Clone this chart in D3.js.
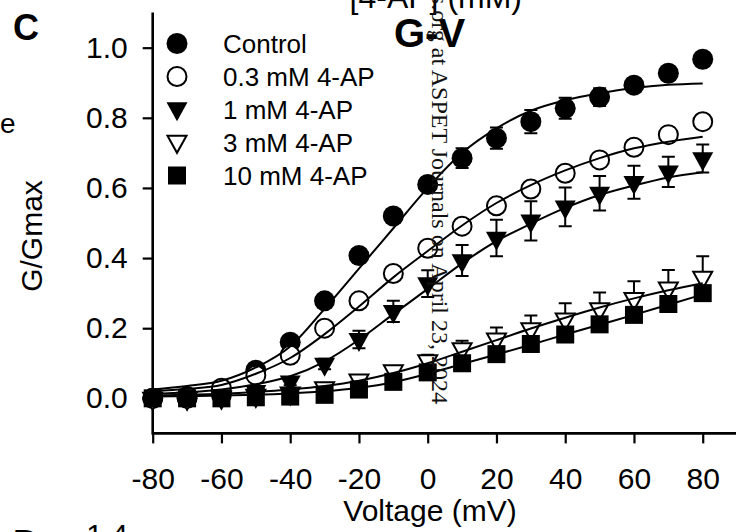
<!DOCTYPE html>
<html><head><meta charset="utf-8">
<script src="https://cdn.jsdelivr.net/npm/d3@7"></script>
<style>html,body{margin:0;padding:0;background:#fff;overflow:hidden}svg{display:block}</style>
</head><body>
<script>
// ---------- data ----------
const voltages = [-80,-70,-60,-50,-40,-30,-20,-10,0,10,20,30,40,50,60,70,80];
const seriesNames = ["Control","0.3 mM 4-AP","1 mM 4-AP","3 mM 4-AP","10 mM 4-AP"];
const seriesSymbols = ["circleFilled","circleOpen","triFilled","triOpen","squareFilled"];

const controlMean = [0.0,0.0,0.01,0.08,0.16,0.278,0.407,0.52,0.61,0.685,0.742,0.789,0.827,0.859,0.893,0.927,0.967];
const controlErr  = [0.0,0.0,0.005,0.01,0.01,0.015,0.02,0.02,0.02,0.028,0.03,0.033,0.03,0.025,0.02,0.02,0.02];
const ap03Mean = [0.0,0.005,0.029,0.066,0.123,0.2,0.278,0.356,0.428,0.491,0.549,0.597,0.642,0.68,0.716,0.752,0.789];
const ap03Err  = [0.0,0.0,0.005,0.01,0.01,0.012,0.015,0.015,0.02,0.02,0.02,0.02,0.02,0.02,0.02,0.02,0.02];
const ap1Mean = [0.0,0.0,0.005,0.02,0.047,0.098,0.168,0.248,0.327,0.393,0.457,0.506,0.546,0.585,0.616,0.646,0.684];
const ap1Err  = [0.0,0.0,0.003,0.005,0.01,0.015,0.025,0.03,0.038,0.044,0.052,0.056,0.055,0.049,0.047,0.043,0.04];
const ap3Mean = [0.0,0.0,0.003,0.008,0.015,0.03,0.052,0.078,0.107,0.141,0.169,0.198,0.226,0.255,0.284,0.314,0.345];
const ap3Err  = [0.0,0.0,0.003,0.004,0.005,0.006,0.008,0.012,0.017,0.023,0.033,0.038,0.045,0.047,0.05,0.052,0.06];
const ap10Mean = [0.0,0.0,0.0,0.003,0.005,0.01,0.025,0.047,0.074,0.10,0.126,0.155,0.182,0.211,0.238,0.269,0.30];
const ap10Err  = [0.0,0.0,0.0,0.003,0.004,0.005,0.006,0.008,0.01,0.012,0.014,0.015,0.016,0.018,0.02,0.02,0.02];

// Boltzmann fit curves at each 10 mV
const controlFit = [0.025,0.035,0.05,0.088,0.148,0.255,0.37,0.485,0.60,0.70,0.77,0.82,0.85,0.87,0.885,0.894,0.898];
const ap03Fit    = [0.02,0.027,0.038,0.07,0.115,0.183,0.262,0.345,0.42,0.493,0.557,0.608,0.65,0.685,0.713,0.732,0.746];
const ap1Fit     = [0.012,0.017,0.025,0.04,0.063,0.105,0.167,0.24,0.312,0.385,0.448,0.498,0.543,0.58,0.607,0.63,0.645];
const ap3Fit     = [0.008,0.01,0.013,0.018,0.025,0.035,0.05,0.072,0.10,0.133,0.166,0.199,0.23,0.259,0.285,0.308,0.328];
const ap10Fit    = [0.005,0.006,0.008,0.01,0.014,0.02,0.03,0.046,0.07,0.098,0.125,0.153,0.182,0.21,0.238,0.267,0.296];

const xTicks = [-80,-60,-40,-20,0,20,40,60,80];
const yTicks = [0.0,0.2,0.4,0.6,0.8,1.0];

const series = [
  {name: seriesNames[0], sym: seriesSymbols[0], mean: controlMean, err: controlErr, fit: controlFit},
  {name: seriesNames[1], sym: seriesSymbols[1], mean: ap03Mean, err: ap03Err, fit: ap03Fit},
  {name: seriesNames[2], sym: seriesSymbols[2], mean: ap1Mean, err: ap1Err, fit: ap1Fit},
  {name: seriesNames[3], sym: seriesSymbols[3], mean: ap3Mean, err: ap3Err, fit: ap3Fit},
  {name: seriesNames[4], sym: seriesSymbols[4], mean: ap10Mean, err: ap10Err, fit: ap10Fit}
];

// ---------- drawing ----------
const W = 736, H = 532;
const FONT = "'Liberation Sans', Arial, Helvetica, sans-serif";
const svg = d3.select("body").append("svg").attr("width", W).attr("height", H)
  .style("font-family", FONT);

const x = d3.scaleLinear().domain([-80, 90]).range([152.7, 737.1]);
const y = d3.scaleLinear().domain([-0.1, 1.1]).range([433.4, 12.6]);

function drawSymbol(g, sym, cx, cy) {
  if (sym === "circleFilled") {
    g.append("circle").attr("cx", cx).attr("cy", cy).attr("r", 10.5).attr("fill", "#000");
  } else if (sym === "circleOpen") {
    g.append("circle").attr("cx", cx).attr("cy", cy).attr("r", 9.5)
      .attr("fill", "#fff").attr("stroke", "#000").attr("stroke-width", 2);
  } else if (sym === "triFilled" || sym === "triOpen") {
    const w = sym === "triFilled" ? 21 : 19, h = sym === "triFilled" ? 19 : 17;
    const p = `M${cx - w/2},${cy - h/3}L${cx + w/2},${cy - h/3}L${cx},${cy + 2*h/3}Z`;
    const el = g.append("path").attr("d", p);
    if (sym === "triFilled") el.attr("fill", "#000");
    else el.attr("fill", "#fff").attr("stroke", "#000").attr("stroke-width", 2).attr("stroke-linejoin", "miter");
  } else if (sym === "squareFilled") {
    g.append("rect").attr("x", cx - 9).attr("y", cy - 9).attr("width", 18).attr("height", 18).attr("fill", "#000");
  }
}

// header texts
svg.append("text").attr("x", 522).attr("y", 8).attr("text-anchor", "end")
  .attr("font-size", 32).text("[4-AP] (mM)");
svg.append("text").attr("x", 13).attr("y", 40).attr("font-size", 36).attr("font-weight", "bold").text("C");
svg.append("text").attr("x", 394).attr("y", 47).attr("font-size", 40).attr("font-weight", "bold").text("G-V");
svg.append("text").attr("x", 0).attr("y", 133).attr("font-size", 28).text("e");
svg.append("text").attr("x", 13).attr("y", 556).attr("font-size", 36).attr("font-weight", "bold").text("D");
svg.append("text").attr("x", 128).attr("y", 545).attr("text-anchor", "end").attr("font-size", 30).text("1.4");

// axes
const yAxis = d3.axisLeft(y).tickValues(yTicks).tickFormat(d3.format(".1f"))
  .tickSize(10).tickSizeOuter(0).tickPadding(15);
const gy = svg.append("g").attr("transform", `translate(${x(-80)},0)`).call(yAxis);
const xAxis = d3.axisBottom(x).tickValues(xTicks).tickFormat(d => String(d))
  .tickSize(10).tickSizeOuter(0).tickPadding(24);
const gx = svg.append("g").attr("transform", `translate(0,${y(-0.1)})`).call(xAxis);
[gx, gy].forEach(g => {
  g.select(".domain").attr("stroke", "#000").attr("stroke-width", 2.6);
  g.selectAll(".tick line").attr("stroke", "#000").attr("stroke-width", 2.2);
  g.selectAll(".tick text").attr("fill", "#000").attr("font-size", 30).attr("font-family", FONT);
});
gx.selectAll(".tick text").attr("y", 34).attr("dy", "0.71em");
gx.select(".domain").attr("d", `M${x(-80)},0H${x(90)}`);
gy.select(".domain").attr("d", `M0,${y(-0.1) + 1.3}V${y(1.1)}`);

// axis titles
svg.append("text").attr("transform", "translate(42,236) rotate(-90)").attr("text-anchor", "middle")
  .attr("font-size", 30).text("G/Gmax");
svg.append("text").attr("x", 430).attr("y", 521).attr("text-anchor", "middle")
  .attr("font-size", 30).text("Voltage (mV)");

// plots: error bars + symbols, series by series
const plot = svg.append("g");
series.forEach(s => {
  const g = plot.append("g");
  voltages.forEach((v, i) => {
    const m = s.mean[i], e = s.err[i];
    if (e > 0) {
      const cx = x(v), y1 = y(m + e), y2 = y(m - e);
      g.append("path").attr("d", `M${cx},${y1}V${y2}M${cx-6.5},${y1}H${cx+6.5}M${cx-6.5},${y2}H${cx+6.5}`)
        .attr("stroke", "#000").attr("stroke-width", 2).attr("fill", "none");
    }
  });
  voltages.forEach((v, i) => drawSymbol(g, s.sym, x(v), y(s.mean[i])));
});

// fit curves
const line = d3.line().x((d, i) => x(voltages[i])).y(d => y(d)).curve(d3.curveMonotoneX);
series.forEach(s => {
  svg.append("path").attr("d", line(s.fit)).attr("fill", "none")
    .attr("stroke", "#000").attr("stroke-width", 2);
});

// legend
const legY0 = 43.5, legDy = 33;
series.forEach((s, i) => {
  const ly = legY0 + i * legDy;
  drawSymbol(svg, s.sym, 177, s.sym.startsWith("tri") ? ly - 1 : ly);
  svg.append("text").attr("x", 223).attr("y", ly + 9.3).attr("font-size", 26).text(s.name);
});

// watermark (rotated, serif)
svg.append("text").attr("transform", "translate(432,404) rotate(90)").attr("text-anchor", "end")
  .attr("font-family", "'Liberation Serif', 'Times New Roman', serif").attr("font-size", 24)
  .attr("fill", "#111")
  .text("Downloaded from jpet.aspetjournals.org at ASPET Journals on April 23, 2024");
</script>
</body></html>
